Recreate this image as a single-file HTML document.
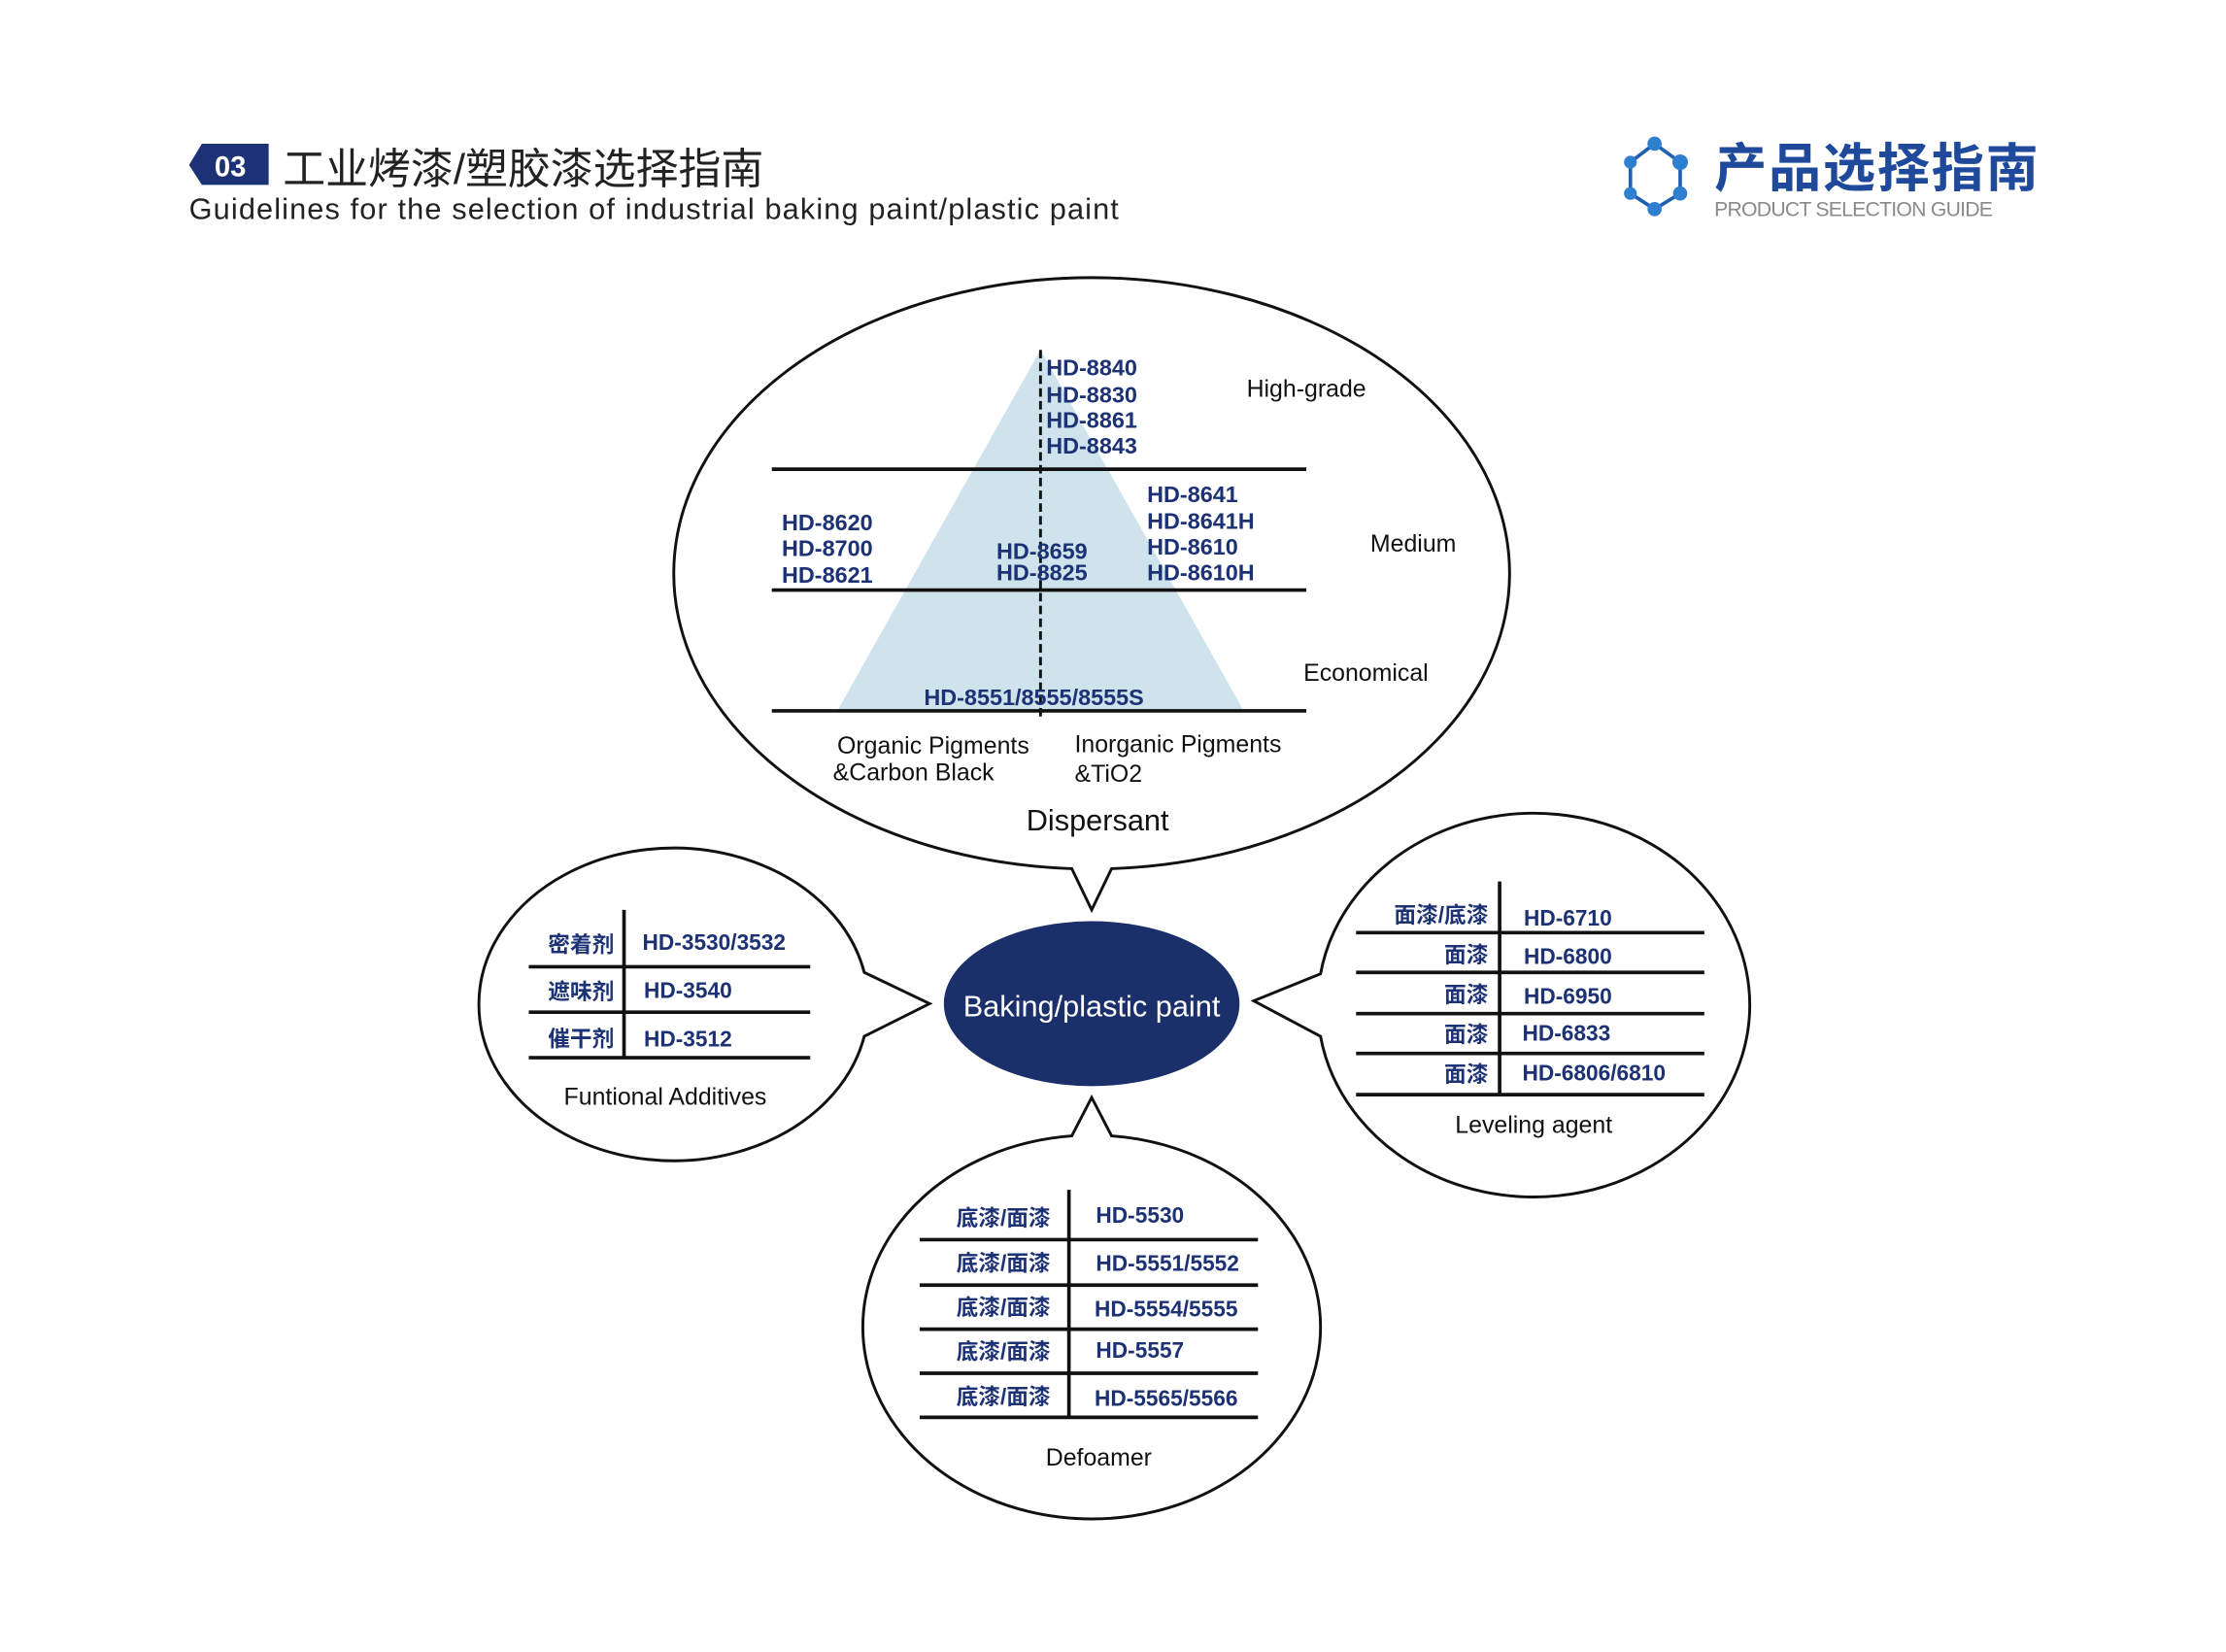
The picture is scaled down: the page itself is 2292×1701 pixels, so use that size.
<!DOCTYPE html>
<html><head><meta charset="utf-8"><style>
html,body{margin:0;padding:0;background:#fff;}
svg{display:block;}
.b{font-family:"Liberation Sans","Noto Sans CJK SC",sans-serif;font-weight:bold;fill:#1c3274;font-size:16px;}
.k{font-family:"Liberation Sans","Noto Sans CJK SC",sans-serif;fill:#111;font-size:17px;}
.c{font-family:"Liberation Sans","Noto Sans CJK SC",sans-serif;font-weight:bold;fill:#1c3274;font-size:15.5px;}
</style></head><body>
<svg width="2292" height="1701" viewBox="1 1 1566 1162" xmlns="http://www.w3.org/2000/svg">
<rect x="0" y="0" width="1570" height="1170" fill="#fff"/>
<!-- header -->
<polygon points="134,117 143,102 190,102 190,131 143,131" fill="#1c3274"/>
<text x="163" y="125" text-anchor="middle" font-family="Liberation Sans" font-weight="bold" font-size="20" fill="#fff">03</text>
<text x="200" y="130" font-family="Liberation Sans,Noto Sans CJK SC,sans-serif" font-size="30" fill="#222">工业烤漆/塑胶漆选择指南</text>
<text x="134" y="155" font-family="Liberation Sans,sans-serif" font-size="21" fill="#222" textLength="654">Guidelines for the selection of industrial baking paint/plastic paint</text>
<!-- logo -->
<g stroke="#1f5fb0" stroke-width="2.5" fill="none">
<path d="M1165,102 L1148,115 L1148,137 L1165,148 L1183,137 L1183,115 Z"/>
</g>
<g fill="#2f7fd0">
<circle cx="1165" cy="102" r="5"/><circle cx="1148" cy="115" r="4.5"/><circle cx="1183" cy="115" r="5.5"/>
<circle cx="1148" cy="137" r="4.5"/><circle cx="1183" cy="137" r="5"/><circle cx="1165" cy="148" r="5"/>
</g>
<text x="1207" y="132" font-family="Liberation Sans,Noto Sans CJK SC,sans-serif" font-weight="bold" font-size="37" fill="#1f4a9c" textLength="228">产品选择指南</text>
<text x="1207" y="153" font-family="Liberation Sans,sans-serif" font-size="14.5" fill="#8a8a8a" textLength="196">PRODUCT SELECTION GUIDE</text>

<!-- top bubble -->
<path d="M755,612 A294,208 0 1 1 783,612 L769,641 Z" fill="none" stroke="#111" stroke-width="2"/>
<polygon points="733,247 590,501 876,501" fill="#cfe3ec"/>
<g stroke="#111" stroke-width="2.5">
<line x1="544" y1="331" x2="920" y2="331"/><line x1="544" y1="416" x2="920" y2="416"/><line x1="544" y1="501" x2="920" y2="501"/>
</g>
<line x1="733" y1="247" x2="733" y2="506" stroke="#111" stroke-width="2" stroke-dasharray="6,3"/>
<text class="b" x="737" y="265">HD-8840</text><text class="b" x="737" y="284">HD-8830</text>
<text class="b" x="737" y="302">HD-8861</text><text class="b" x="737" y="320">HD-8843</text>
<text class="b" x="551" y="374">HD-8620</text><text class="b" x="551" y="392">HD-8700</text><text class="b" x="551" y="411">HD-8621</text>
<text class="b" x="702" y="394">HD-8659</text><text class="b" x="702" y="409">HD-8825</text>
<text class="b" x="808" y="354">HD-8641</text><text class="b" x="808" y="373">HD-8641H</text>
<text class="b" x="808" y="391">HD-8610</text><text class="b" x="808" y="409">HD-8610H</text>
<text class="b" x="651" y="497">HD-8551/8555/8555S</text>
<text class="k" x="878" y="280">High-grade</text>
<text class="k" x="965" y="389">Medium</text>
<text class="k" x="918" y="480">Economical</text>
<text class="k" x="590" y="531">Organic Pigments</text><text class="k" x="587" y="550">&amp;Carbon Black</text>
<text class="k" x="757" y="530">Inorganic Pigments</text><text class="k" x="757" y="551">&amp;TiO2</text>
<text class="k" x="723" y="585" style="font-size:21px">Dispersant</text>

<!-- center -->
<ellipse cx="769" cy="707" rx="104" ry="58" fill="#1b2f6b"/>
<text x="769" y="716" text-anchor="middle" font-family="Liberation Sans,sans-serif" font-size="21" fill="#fff">Baking/plastic paint</text>

<!-- left bubble -->
<path d="M609,730 A137,110 0 1 1 609,685 L655,707 Z" fill="none" stroke="#111" stroke-width="2"/>
<g stroke="#111" stroke-width="2.5">
<line x1="440" y1="641" x2="440" y2="745"/>
<line x1="373" y1="681" x2="571" y2="681"/><line x1="373" y1="713" x2="571" y2="713"/><line x1="373" y1="745" x2="571" y2="745"/>
</g>
<text class="c" x="433" y="671" text-anchor="end">密着剂</text><text class="c" x="453" y="669">HD-3530/3532</text>
<text class="c" x="433" y="704" text-anchor="end">遮味剂</text><text class="c" x="454" y="703">HD-3540</text>
<text class="c" x="433" y="737" text-anchor="end">催干剂</text><text class="c" x="454" y="737">HD-3512</text>
<text class="k" x="469" y="778" text-anchor="middle">Funtional Additives</text>

<!-- right bubble -->
<path d="M930,686 A152,135 0 1 1 930,730 L883,705 Z" fill="none" stroke="#111" stroke-width="2"/>
<g stroke="#111" stroke-width="2.5">
<line x1="1056" y1="621" x2="1056" y2="771"/>
<line x1="955" y1="657" x2="1200" y2="657"/><line x1="955" y1="685" x2="1200" y2="685"/>
<line x1="955" y1="714" x2="1200" y2="714"/><line x1="955" y1="742" x2="1200" y2="742"/><line x1="955" y1="771" x2="1200" y2="771"/>
</g>
<text class="c" x="1048" y="650" text-anchor="end">面漆/底漆</text><text class="c" x="1073" y="652">HD-6710</text>
<text class="c" x="1048" y="678" text-anchor="end">面漆</text><text class="c" x="1073" y="679">HD-6800</text>
<text class="c" x="1048" y="706" text-anchor="end">面漆</text><text class="c" x="1073" y="707">HD-6950</text>
<text class="c" x="1048" y="734" text-anchor="end">面漆</text><text class="c" x="1072" y="733">HD-6833</text>
<text class="c" x="1048" y="762" text-anchor="end">面漆</text><text class="c" x="1072" y="761">HD-6806/6810</text>
<text class="k" x="1080" y="798" text-anchor="middle">Leveling agent</text>

<!-- bottom bubble -->
<path d="M783,800 A161,135 0 1 1 755,800 L769,773 Z" fill="none" stroke="#111" stroke-width="2"/>
<g stroke="#111" stroke-width="2.5">
<line x1="753" y1="838" x2="753" y2="998"/>
<line x1="648" y1="873" x2="886" y2="873"/><line x1="648" y1="905" x2="886" y2="905"/>
<line x1="648" y1="936" x2="886" y2="936"/><line x1="648" y1="967" x2="886" y2="967"/><line x1="648" y1="998" x2="886" y2="998"/>
</g>
<text class="c" x="740" y="863" text-anchor="end">底漆/面漆</text><text class="c" x="772" y="861">HD-5530</text>
<text class="c" x="740" y="895" text-anchor="end">底漆/面漆</text><text class="c" x="772" y="895">HD-5551/5552</text>
<text class="c" x="740" y="926" text-anchor="end">底漆/面漆</text><text class="c" x="771" y="927">HD-5554/5555</text>
<text class="c" x="740" y="957" text-anchor="end">底漆/面漆</text><text class="c" x="772" y="956">HD-5557</text>
<text class="c" x="740" y="989" text-anchor="end">底漆/面漆</text><text class="c" x="771" y="990">HD-5565/5566</text>
<text class="k" x="774" y="1032" text-anchor="middle">Defoamer</text>
</svg>
</body></html>
